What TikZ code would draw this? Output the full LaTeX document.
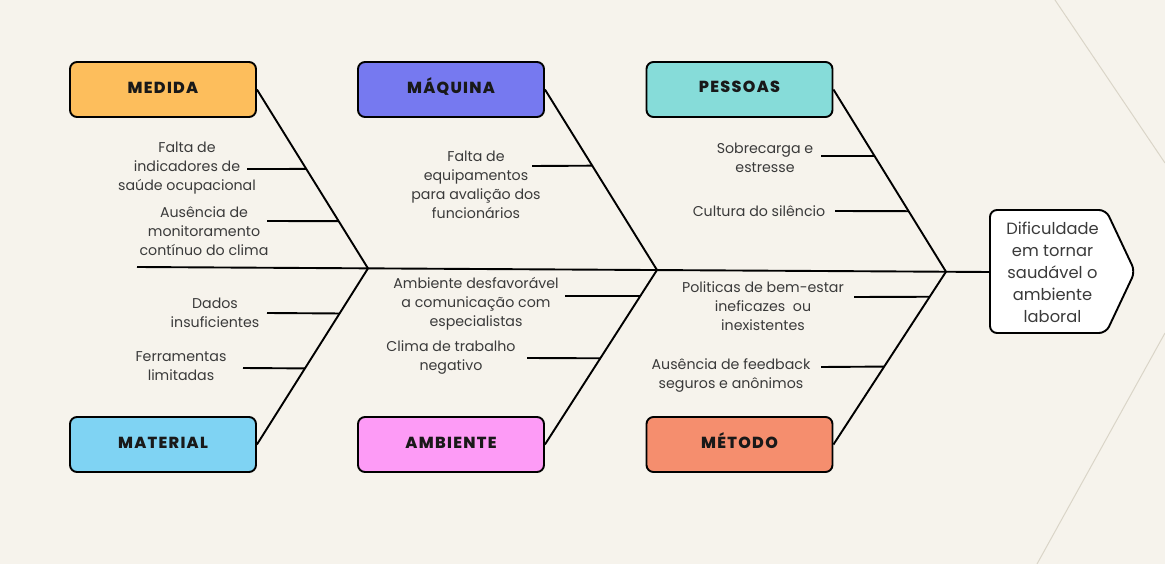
\documentclass[tikz,border=0pt]{standalone}
\usepackage{fontspec}
\setmainfont{Poppins}
\newfontfamily\titlefont[LetterSpace=8]{Poppins ExtraBold}
\usetikzlibrary{calc}
\definecolor{bg}{HTML}{F6F3EC}
\definecolor{deco}{HTML}{DAD5C8}
\definecolor{txt}{HTML}{3A3A3A}
\definecolor{cMedida}{HTML}{FDBE5C}
\definecolor{cMaquina}{HTML}{7679F0}
\definecolor{cPessoas}{HTML}{86DCD9}
\definecolor{cMaterial}{HTML}{7FD3F3}
\definecolor{cAmbiente}{HTML}{FD9BF6}
\definecolor{cMetodo}{HTML}{F58E6E}
\tikzset{
  catbox/.style={draw=black, line width=1.9pt, rounded corners=7pt, minimum width=186pt, minimum height=55pt, inner sep=0pt},
  cattext/.style={inner sep=0pt, text height=11.2pt, text depth=0pt,
    font=\titlefont\fontsize{16}{18}\selectfont, text=black!90},
  lbl/.style={align=center, text=txt, font=\fontsize{14.2}{19}\selectfont, inner sep=0pt},
  bone/.style={line width=1.9pt, black},
  sub/.style={line width=1.9pt, black},
}
\begin{document}
\begin{tikzpicture}[x=1pt,y=-1pt]
\fill[bg] (0,0) rectangle (1165,564);
\useasboundingbox (0,0) rectangle (1165,564);
% decorative background lines
\draw[deco, line width=1pt] (1055,0) -- (1165,163);
\draw[deco, line width=1pt] (1165,333) -- (1037,564);

% category boxes
\node[catbox, fill=cMedida]   (medida)   at (163,89.5)  {};
\node[catbox, fill=cMaquina]  (maquina)  at (451,89.5)  {};
\node[catbox, fill=cPessoas]  (pessoas)  at (739.5,89.5){};
\node[catbox, fill=cMaterial] (material) at (163,444.5) {};
\node[catbox, fill=cAmbiente] (ambiente) at (451,444.5) {};
\node[catbox, fill=cMetodo]   (metodo)   at (739.5,444.5){};
\node[cattext] (tmedida)   at (163,87.5)   {MEDIDA};
\node[cattext] (tmaquina)  at (451,87.5)   {MÁQUINA};
\node[cattext] (tpessoas)  at (739.5,87)   {PESSOAS};
\node[cattext] (tmaterial) at (163,443)    {MATERIAL};
\node[cattext] (tambiente) at (451,443)    {AMBIENTE};
\node[cattext] (tmetodo)   at (739.5,442.5){MÉTODO};

% head
\draw[black, line width=1.9pt, fill=white, rounded corners=7pt]
  (990,210) -- (1106,210) -- (1135,271.5) -- (1106,333) -- (990,333) -- cycle;
\node[align=center, text=txt, font=\fontsize{16.3}{22}\selectfont, inner sep=0pt] (head) at (1052.5,272)
  {Dificuldade\\em tornar\\saudável o\\ambiente\\laboral};
\coordinate (headleft) at (990,272);

% spine
\coordinate (tail) at (137,267);
\coordinate (j1) at (368,268.4);
\coordinate (j2) at (657,270);
\coordinate (j3) at (946,271.7);
\draw[bone] (tail) -- (headleft);

% main bones
\draw[bone] (medida.east) -- (j1);
\draw[bone] (material.east) -- (j1);
\draw[bone] (maquina.east) -- (j2);
\draw[bone] (ambiente.east) -- (j2);
\draw[bone] (pessoas.east) -- (j3);
\draw[bone] (metodo.east) -- (j3);

% labels
\node[lbl] (l1) at (187,168) {Falta de\\indicadores de\\saúde ocupacional};
\node[lbl] (l2) at (204,231) {Ausência de\\monitoramento\\contínuo do clima};
\node[lbl] (l3) at (215,313) {Dados\\insuficientes};
\node[lbl] (l4) at (181,366.5) {Ferramentas\\limitadas};
\node[lbl] (l5) at (476,185) {Falta de\\equipamentos\\para avalição dos\\funcionários};
\node[lbl] (l6) at (476,304) {Ambiente desfavorável\\a comunicação com\\especialistas};
\node[lbl] (l7) at (451,357.5) {Clima de trabalho\\negativo};
\node[lbl] (l8) at (765,157.5) {Sobrecarga e\\estresse};
\node[lbl] (l9) at (759,211) {Cultura do silêncio};
\node[lbl] (l10) at (763,306) {Politicas de bem-estar\\ineficazes\ \ ou\\inexistentes};
\node[lbl] (l11) at (731,375) {Ausência de feedback\\seguros e anônimos};

% sub-bone start points
\coordinate (s1) at (247,169);
\coordinate (s2) at (267,221);
\coordinate (s3) at (267,313);
\coordinate (s4) at (243,368);
\coordinate (s5) at (532,166);
\coordinate (s6) at (565,296);
\coordinate (s7) at (527,358);
\coordinate (s8) at (821,156);
\coordinate (s9) at (835,211);
\coordinate (s10) at (854,297);
\coordinate (s11) at (821,367);

% sub-bones
\draw[sub] (s1) -- ($(medida.east)!0.444!(j1)$);
\draw[sub] (s2) -- ($(medida.east)!0.736!(j1)$);
\draw[sub] (s3) -- ($(j1)!0.256!(material.east)$);
\draw[sub] (s4) -- ($(j1)!0.568!(material.east)$);
\draw[sub] (s5) -- ($(maquina.east)!0.422!(j2)$);
\draw[sub] (s6) -- ($(j2)!0.149!(ambiente.east)$);
\draw[sub] (s7) -- ($(j2)!0.506!(ambiente.east)$);
\draw[sub] (s8) -- ($(pessoas.east)!0.365!(j3)$);
\draw[sub] (s9) -- ($(pessoas.east)!0.668!(j3)$);
\draw[sub] (s10) -- ($(j3)!0.145!(metodo.east)$);
\draw[sub] (s11) -- ($(j3)!0.549!(metodo.east)$);
\end{tikzpicture}
\end{document}
